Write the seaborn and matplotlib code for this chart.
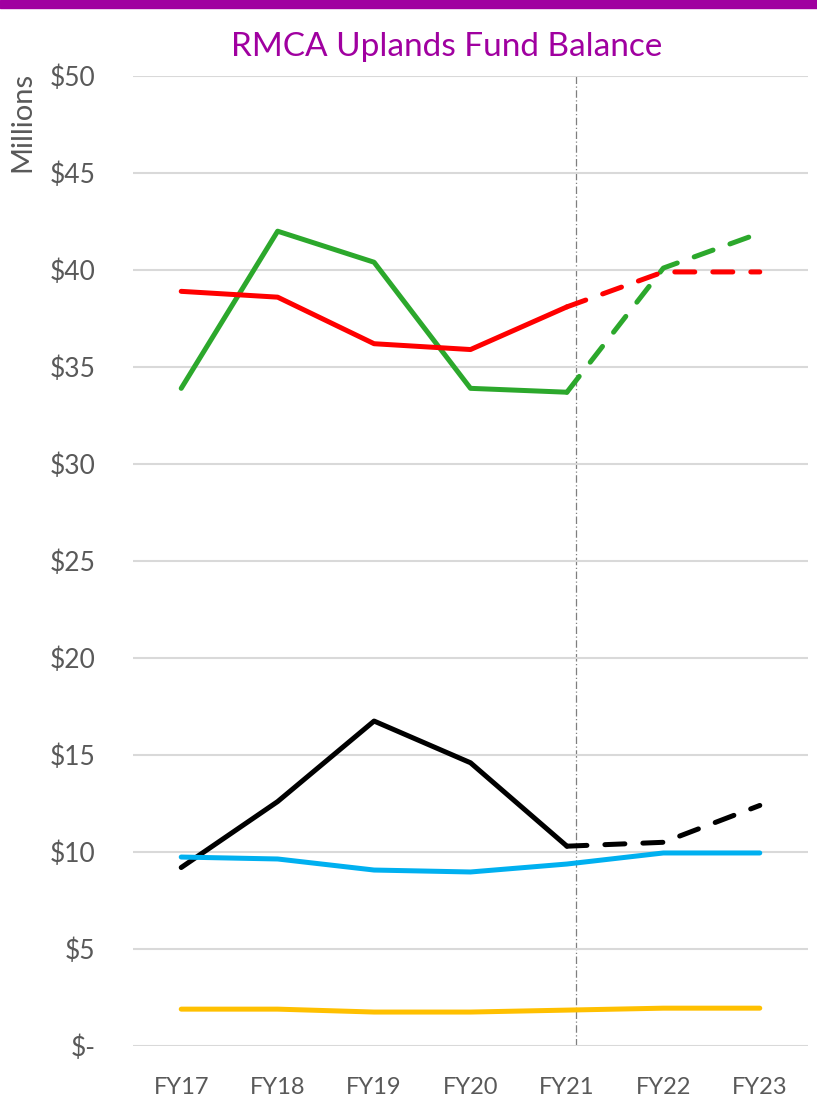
import numpy as np
import pandas as pd
import matplotlib
matplotlib.use("Agg")
import matplotlib.pyplot as plt
import seaborn as sns

years = ["FY17", "FY18", "FY19", "FY20", "FY21", "FY22", "FY23"]
green = [33.9, 42.0, 40.4, 33.9, 33.7, 40.1, 41.9]
red = [38.9, 38.6, 36.2, 35.9, 38.1, 39.9, 39.9]
black = [9.2, 12.6, 16.75, 14.6, 10.3, 10.5, 12.4]
blue = [9.74, 9.64, 9.07, 8.97, 9.38, 9.95, 9.95]
yellow = [1.9, 1.9, 1.75, 1.75, 1.85, 1.95, 1.95]
actual_last = 4  # FY21 is the last actual year; later years are projections
ytick_vals = [0, 5, 10, 15, 20, 25, 30, 35, 40, 45, 50]
ytick_labels = ["$-", "$5", "$10", "$15", "$20", "$25", "$30", "$35", "$40", "$45", "$50"]

series = [
    (green, "#2CA82C", True),
    (red, "#FF0000", True),
    (black, "#000000", True),
    (blue, "#00B0F0", False),
    (yellow, "#FFC000", False),
]

sns.set_theme(style="white")
plt.rcParams["font.family"] = ["Lato", "DejaVu Sans"]

fig = plt.figure(figsize=(8.17, 11.16), dpi=100)
ax = fig.add_axes([133 / 817, 1 - 1046 / 1116, (808 - 133) / 817, (1046 - 76) / 1116])

xs = np.arange(len(years))
lw = 3.6
for vals, col, projected in series:
    if projected:
        sns.lineplot(x=xs[:actual_last + 1], y=vals[:actual_last + 1], ax=ax, color=col,
                     lw=lw, solid_capstyle="round", solid_joinstyle="round")
        sns.lineplot(x=xs[actual_last:], y=vals[actual_last:], ax=ax, color=col, lw=lw)
        ln = ax.lines[-1]
        ln.set_dashes((4.0, 3.6))
        ln.set_dash_capstyle("round")
    else:
        sns.lineplot(x=xs, y=vals, ax=ax, color=col, lw=lw,
                     solid_capstyle="round", solid_joinstyle="round")

ax.axvline(actual_last + 0.09, color="#7F7F7F", lw=0.9, ls=(0, (6, 2, 1, 2)), zorder=0.5)

ax.set_xlim(-0.5, len(years) - 0.5)
ax.set_ylim(0, 50)
ax.set_yticks(ytick_vals)
ax.set_yticklabels(ytick_labels)
ax.set_xticks(xs)
ax.set_xticklabels(years)
ax.grid(axis="y", color="#D9D9D9", lw=1.5)
ax.grid(axis="x", visible=False)
for s in ax.spines.values():
    s.set_visible(False)
ax.tick_params(axis="y", labelsize=19, labelcolor="#595959", pad=27, length=0)
ax.tick_params(axis="x", labelsize=17, labelcolor="#595959", pad=22, length=0)
ax.set_axisbelow(True)

fig.text(22 / 817, 1 - 72 / 1116, "Millions", rotation=90, ha="center", va="top",
         fontsize=21, color="#595959")
fig.text(447 / 817, 1 - 47 / 1116, "RMCA Uplands Fund Balance", ha="center", va="center",
         fontsize=24, color="#A000A0")
fig.patches.append(plt.Rectangle((0, 1 - 8 / 1116), 1, 8 / 1116, transform=fig.transFigure,
                                 color="#A000A0", zorder=10))

fig.savefig("out.png", dpi=100, facecolor="white")
